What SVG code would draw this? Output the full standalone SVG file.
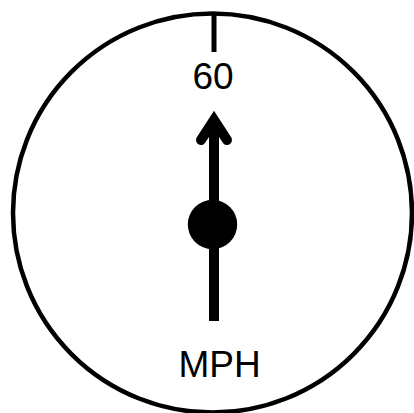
<svg xmlns="http://www.w3.org/2000/svg" width="414" height="413" viewBox="0 0 414 413">
  <style>
    .ln { fill: none; stroke: #000; }
    .lbl { font-family: "Liberation Sans", Arial, sans-serif; font-size: 37px; fill: #000; text-anchor: middle; }
  </style>
  <rect width="414" height="413" fill="#fff"/>
  <g id="dial">
    <circle class="ln" cx="212.5" cy="213" r="199.5" stroke-width="4.5"/>
    <line class="ln" x1="214" y1="12" x2="214" y2="52" stroke-width="5"/>
  </g>
  <g id="label-60">
    <text class="lbl" x="213" y="89">60</text>
  </g>
  <g id="connectors">
    <line class="ln" x1="214" y1="321" x2="214" y2="125" stroke-width="10"/>
    <polyline class="ln" points="201,140 214,120 227,140" stroke-width="10" stroke-linejoin="miter" stroke-linecap="round" stroke-miterlimit="10"/>
  </g>
  <g id="hub">
    <circle cx="212.5" cy="224.5" r="24.7" fill="#000"/>
  </g>
  <g id="label-mph">
    <text class="lbl" x="219.5" y="377">MPH</text>
  </g>
</svg>
